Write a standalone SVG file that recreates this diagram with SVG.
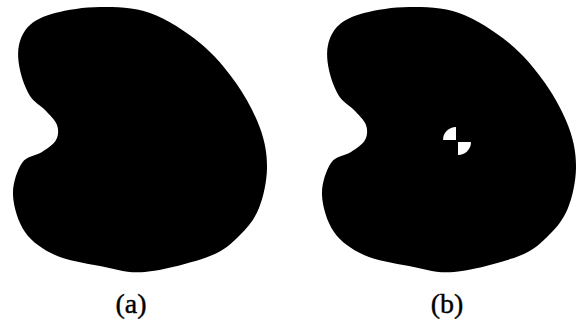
<svg xmlns="http://www.w3.org/2000/svg" width="577" height="322" viewBox="0 0 577 322">
<style>
.blob{fill:#000;stroke:none}
.lbl{font-family:"Liberation Serif","Times New Roman",serif;font-size:28px;fill:#000;stroke:#000;stroke-width:0.4;text-anchor:middle}
.cg{fill:#fff;stroke:none}
</style>
<defs>
<path id="shape" d="M100,7 C115.8,7 133.3,7 150,13 C166.7,19 185.7,31.3 200,43 C214.3,54.7 226,68.8 236,83 C246,97.2 254.8,113.8 260,128 C265.2,142.2 267.2,154.7 267,168 C266.8,181.3 263.5,196.8 259,208 C254.5,219.2 248.2,227 240,235 C231.8,243 225.8,249.8 210,256 C194.2,262.2 163.3,270.3 145,272 C126.7,273.7 115,268.8 100,266 C85,263.2 67.5,260.7 55,255 C42.5,249.3 32,242 25,232 C18,222 13.5,206.5 13,195 C12.5,183.5 17.2,170.2 22,163 C26.8,155.8 36.3,155.8 42,152 C47.7,148.2 53.5,144.5 56,140 C58.5,135.5 58.8,130 57,125 C55.2,120 49.5,114.8 45,110 C40.5,105.2 34.2,102.7 30,96 C25.8,89.3 21.8,78.5 20,70 C18.2,61.5 17.3,52.5 19,45 C20.7,37.5 24,30.3 30,25 C36,19.7 43.3,16 55,13 C66.7,10 84.2,7 100,7 Z"/>
</defs>
<g id="panel-a">
<use href="#shape" class="blob"/>
<text class="lbl" x="131" y="313">(a)</text>
</g>
<g id="panel-b">
<use href="#shape" class="blob" transform="translate(309,0)"/>
<g id="centroid">
<path class="cg" d="M456,140 L443,140 A13,13 0 0 1 456,127 Z"/>
<path class="cg" d="M458,142 L471,142 A13,13 0 0 1 458,155 Z"/>
</g>
<text class="lbl" x="447" y="313">(b)</text>
</g>
</svg>
